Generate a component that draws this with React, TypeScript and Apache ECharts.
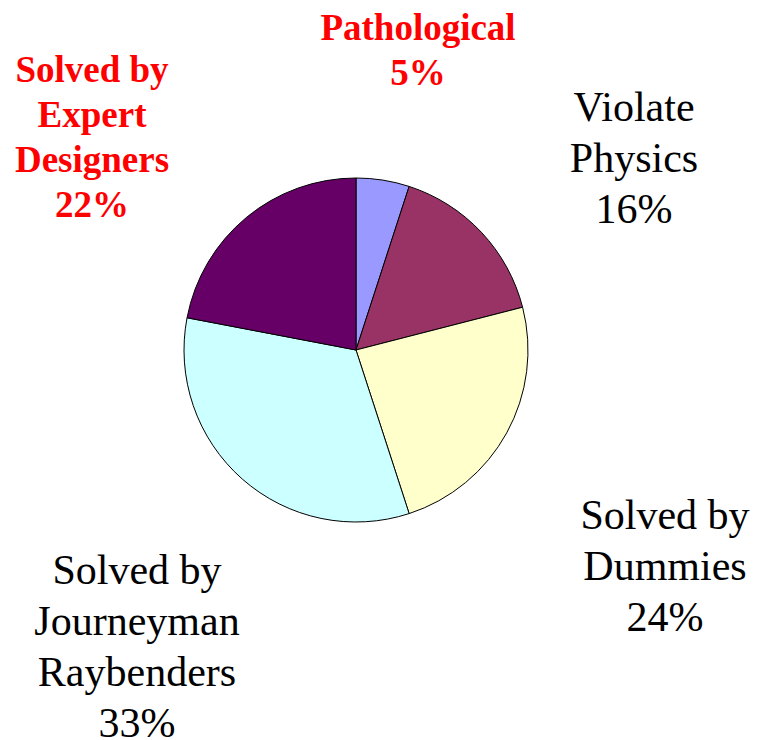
import React, { useEffect, useRef } from "react";
import * as echarts from "echarts";

const categories = [
  "Pathological",
  "Violate\nPhysics",
  "Solved by\nDummies",
  "Solved by\nJourneyman\nRaybenders",
  "Solved by\nExpert\nDesigners",
];
const values = [5, 16, 24, 33, 22];
const colors = ["#9999FF", "#993366", "#FFFFCC", "#CCFFFF", "#660066"];
const highlighted = [true, false, false, false, true];
const labelCenters = [
  [418, 50],
  [634, 158],
  [665, 566],
  [137, 646],
  [92, 137],
];

export default function App() {
  const ref = useRef<HTMLDivElement>(null);
  useEffect(() => {
    const chart = echarts.init(ref.current!, null, { renderer: "svg" });
    chart.setOption({
      animation: false,
      backgroundColor: "#FFFFFF",
      series: [
        {
          type: "pie",
          center: [356, 350],
          radius: 172,
          startAngle: 90,
          clockwise: true,
          avoidLabelOverlap: false,
          itemStyle: { borderColor: "#000000", borderWidth: 1 },
          emphasis: { disabled: true },
          labelLine: { show: false },
          label: {
            show: true,
            position: "outside",
            formatter: "{b}\n{d}%",
            fontFamily: "Liberation Serif",
            align: "center",
          },
          labelLayout: (params: any) => {
            const p = labelCenters[params.dataIndex];
            return { x: p[0], y: p[1], align: "center", verticalAlign: "middle" };
          },
          data: categories.map((name, i) => ({
            name,
            value: values[i],
            itemStyle: { color: colors[i] },
            label: highlighted[i]
              ? { color: "#FF0000", fontWeight: "bold", fontSize: 37, lineHeight: 45 }
              : { color: "#000000", fontWeight: "normal", fontSize: 42, lineHeight: 51 },
          })),
        },
      ],
    });
    return () => chart.dispose();
  }, []);
  return (
    <div
      ref={ref}
      style={{ position: "fixed", left: 0, top: 0, width: 758, height: 740 }}
    />
  );
}
